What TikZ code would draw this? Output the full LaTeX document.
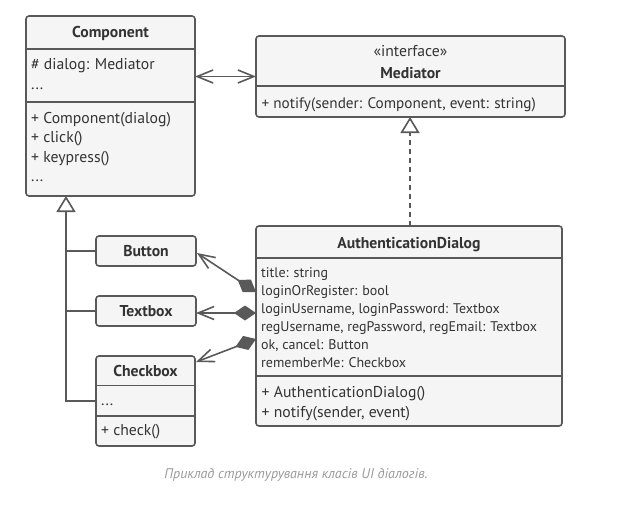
\documentclass[tikz,border=0pt]{standalone}
\usepackage{fontspec}
\setmainfont{PT Sans}
\usetikzlibrary{arrows.meta,calc}
\definecolor{ln}{HTML}{595959}
\definecolor{bx}{HTML}{F5F5F5}
\definecolor{tx}{HTML}{333333}
\definecolor{capc}{HTML}{9A9A9A}
\begin{document}
\begin{tikzpicture}[x=1pt,y=-1pt,
  cls/.style={draw=ln, line width=1.6pt, fill=bx, rounded corners=3pt, inner sep=0pt, outer sep=0pt},
  lbl/.style={anchor=base west, inner sep=0pt, font=\fontsize{15.7}{18}\selectfont, text=tx},
  attr/.style={lbl, font=\fontsize{14}{16}\selectfont},
  ttl/.style={anchor=base, inner sep=0pt, font=\fontsize{15.7}{18}\selectfont\bfseries, text=tx},
  sepl/.style={draw=ln, line width=1.6pt},
  conn/.style={draw=ln, line width=1.6pt},
  barb/.tip={Straight Barb[length=16pt,width=13pt,line width=1.6pt]},
  dmd/.tip={Diamond[length=22pt,width=15pt]},
  tri/.tip={Triangle[length=16pt,width=19pt,fill=white,line width=1.6pt]}]
\useasboundingbox (0,0) rectangle (631,516);

% Component
\node[cls, minimum width=169pt, minimum height=180pt] (comp) at (110.5,106) {};
\draw[sepl] (26,49) -- (195,49);
\draw[sepl] (26,102) -- (195,102);
\node[ttl] (compT) at (110.5,37.5) {Component};
\node[lbl] (compA1) at (31,69.5) {\# dialog: Mediator};
\node[lbl] (compA2) at (31,89.5) {...};
\node[lbl] (compM1) at (31,123) {+ Component(dialog)};
\node[lbl] (compM2) at (31,142.5) {+ click()};
\node[lbl] (compM3) at (31,162) {+ keypress()};
\node[lbl] (compM4) at (31,181.5) {...};

% Mediator
\node[cls, minimum width=309pt, minimum height=81pt] (med) at (410.5,76.5) {};
\draw[sepl] (256,86) -- (565,86);
\node[ttl, font=\fontsize{15.7}{18}\selectfont] (medS) at (410.5,57) {«interface»};
\node[ttl] (medT) at (410.5,78.5) {Mediator};
\node[lbl, font=\fontsize{15.2}{18}\selectfont] (medM1) at (261.5,108.5) {+ notify(sender: Component, event: string)};

% AuthenticationDialog
\node[cls, minimum width=306pt, minimum height=200pt] (auth) at (409,326) {};
\draw[sepl] (256,258) -- (562,258);
\draw[sepl] (256,376) -- (562,376);
\node[ttl] (authT) at (409,248) {AuthenticationDialog};
\node[attr] (authA1) at (261,277) {title: string};
\node[attr] (authA2) at (261,295) {loginOrRegister: bool};
\node[attr] (authA3) at (261,313) {loginUsername, loginPassword: Textbox};
\node[attr] (authA4) at (261,331) {regUsername, regPassword, regEmail: Textbox};
\node[attr] (authA5) at (261,349) {ok, cancel: Button};
\node[attr] (authA6) at (261,367) {rememberMe: Checkbox};
\node[lbl] (authM1) at (261.5,397.5) {+ AuthenticationDialog()};
\node[lbl] (authM2) at (261.5,417) {+ notify(sender, event)};

% Button, Textbox, Checkbox
\node[cls, minimum width=100pt, minimum height=30pt] (btn) at (146,251) {};
\node[ttl] (btnT) at (146,256) {Button};
\node[cls, minimum width=100pt, minimum height=30pt] (tbx) at (146,311) {};
\node[ttl] (tbxT) at (146,316) {Textbox};
\node[cls, minimum width=99pt, minimum height=90pt] (chk) at (145.5,401) {};
\draw[sepl] (96,385.5) -- (195,385.5);
\draw[sepl] (96,416) -- (195,416);
\node[ttl] (chkT) at (145.5,376) {Checkbox};
\node[lbl] (chkA1) at (101,405.5) {...};
\node[lbl] (chkM1) at (101,435.5) {+ check()};

% connectors
\coordinate (ct) at (66,196);
\draw[conn, barb-barb] (med.west -| comp.east) -- (med.west);
\draw[conn, dashed, dash pattern=on 5pt off 4pt, -tri] (auth.north -| 410,0) -- (med.south -| 410,0);
\draw[conn, -tri] (chk.west) -| (ct);
\draw[conn] (btn.west) -- (btn.west -| ct);
\draw[conn] (tbx.west) -- (tbx.west -| ct);
\coordinate (a1) at (256,292);
\coordinate (a2) at (256,313);
\coordinate (a3) at (256,339);
\draw[conn, dmd-barb] (a1) -- ($(btn.east)+(1,2)$);
\draw[conn, dmd-barb] (a2) -- (a2 -| tbx.east);
\draw[conn, dmd-barb] (a3) -- ($(chk.north east)+(1,6)$);

% caption
\node[anchor=base, inner sep=0pt, font=\fontsize{14}{16}\selectfont\itshape, text=capc] (cap) at (296,478.5) {Приклад структурування класів UI діалогів.};
\end{tikzpicture}
\end{document}
